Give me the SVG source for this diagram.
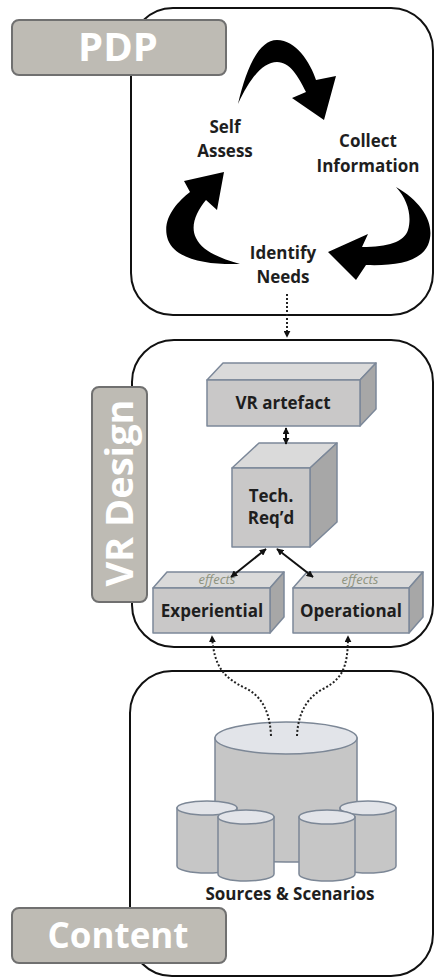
<svg xmlns="http://www.w3.org/2000/svg" width="435" height="978" viewBox="0 0 435 978">
  <defs>
    <style>
      .panel { fill: #ffffff; stroke: #111111; stroke-width: 2; }
      .tag { fill: #bebbb4; stroke: #707070; stroke-width: 2; }
      .tagtxt { font-family: "Open Sans", "Liberation Sans", sans-serif; font-weight: 700; fill: #ffffff; text-anchor: middle; }
      .lbl { font-family: "Open Sans", "Liberation Sans", sans-serif; font-weight: 700; fill: #1e1e1e; text-anchor: middle; font-size: 17px; }
      .eff { font-family: "Open Sans", "Liberation Sans", sans-serif; font-style: italic; fill: #8e937f; text-anchor: middle; font-size: 13px; }
      .front { fill: #c9c8c8; stroke: #7c8899; stroke-width: 1.5; stroke-linejoin: round; }
      .top { fill: #dadada; stroke: #7c8899; stroke-width: 1.5; stroke-linejoin: round; }
      .side { fill: #a7a7a7; stroke: #7c8899; stroke-width: 1.5; stroke-linejoin: round; }
      .cyl { fill: #c6c6c6; stroke: #7c8796; stroke-width: 1.5; }
      .cyltop { fill: #e2e4e9; stroke: #7c8796; stroke-width: 1.5; }
      .cycle { fill: #000000; }
      .solid { fill: none; stroke: #111111; stroke-width: 2; }
      .dotted { fill: none; stroke: #222222; stroke-width: 2; stroke-dasharray: 2 2; }
    </style>
    <marker id="head" viewBox="0 0 10 10" refX="9" refY="5" markerWidth="7" markerHeight="7" markerUnits="userSpaceOnUse" orient="auto-start-reverse">
      <path d="M0 0 L10 5 L0 10 Z" fill="#111111"/>
    </marker>
  </defs>

  <!-- PDP panel -->
  <g id="pdp">
    <rect class="panel" x="131" y="8" width="302" height="307" rx="42"/>
    <rect class="tag" x="12" y="20" width="214" height="55" rx="7"/>
    <text class="tagtxt" x="118" y="61" font-size="40">PDP</text>
  </g>

  <!-- cycle arrows -->
  <g id="cycle">
    <path class="cycle" d="M238 104 C246 70 258 40 277 40 C296 40 310 62 316 80 L336 76 L324 120 L292 98 L306 92 C298 76 290 62 277 62 C263 62 250 78 238 104 Z"/>
    <path class="cycle" d="M396 187 C424 203 436 226 428 245 C420 262 396 266 366 265 L356 280 L328 252 L368 234 L362 247 C388 247 404 242 408 230 C412 216 408 200 396 187 Z"/>
    <path class="cycle" d="M240 264 C208 265 176 260 168 240 C161 220 176 203 190 192 L184 181 L224 172 L217 210 L206 200 C196 212 190 226 196 238 C203 252 220 258 240 264 Z"/>
  </g>

  <g id="self-assess">
    <text class="lbl" x="225" y="133">Self</text>
    <text class="lbl" x="225" y="157">Assess</text>
  </g>
  <g id="collect-information">
    <text class="lbl" x="368" y="147">Collect</text>
    <text class="lbl" x="368" y="172">Information</text>
  </g>
  <g id="identify-needs">
    <text class="lbl" x="283" y="259">Identify</text>
    <text class="lbl" x="283" y="283">Needs</text>
  </g>

  <!-- VR Design panel -->
  <g id="vr-design">
    <rect class="panel" x="132" y="340" width="301" height="307" rx="42"/>
    <rect class="tag" x="92" y="387" width="55" height="215" rx="7"/>
    <text class="tagtxt" x="0" y="0" font-size="38" transform="translate(133 493) rotate(-90)">VR Design</text>
  </g>

  <g id="vr-artefact">
    <polygon class="top" points="207,380 223,363 376,363 360,380"/>
    <polygon class="side" points="360,380 376,363 376,409 360,426"/>
    <rect class="front" x="207" y="380" width="153" height="46"/>
    <text class="lbl" x="283" y="409">VR artefact</text>
  </g>

  <g id="tech-reqd">
    <polygon class="top" points="232,468 259,443 337,443 310,468"/>
    <polygon class="side" points="310,468 337,443 337,522 310,547"/>
    <rect class="front" x="232" y="468" width="78" height="79"/>
    <text class="lbl" x="271" y="502">Tech.</text>
    <text class="lbl" x="271" y="524">Req’d</text>
  </g>

  <g id="experiential">
    <polygon class="top" points="153,588 167,572 284,572 270,588"/>
    <polygon class="side" points="270,588 284,572 284,617 270,633"/>
    <rect class="front" x="153" y="588" width="117" height="45"/>
    <text class="eff" x="217" y="584">effects</text>
    <text class="lbl" x="212" y="617" font-size="17.5">Experiential</text>
  </g>

  <g id="operational">
    <polygon class="top" points="293,588 307,572 423,572 409,588"/>
    <polygon class="side" points="409,588 423,572 423,617 409,633"/>
    <rect class="front" x="293" y="588" width="116" height="45"/>
    <text class="eff" x="360" y="584">effects</text>
    <text class="lbl" x="351" y="617" font-size="17.5">Operational</text>
  </g>

  <!-- Content panel -->
  <g id="content">
    <rect class="panel" x="130" y="671" width="303" height="305" rx="42"/>
    <rect class="tag" x="12" y="908" width="214" height="55" rx="7"/>
    <text class="tagtxt" x="118" y="948" font-size="35">Content</text>
  </g>

  <g id="sources-scenarios">
    <path class="cyl" d="M215 738 L215 855 A71 7 0 0 0 357 855 L357 738 Z"/>
    <ellipse class="cyltop" cx="286" cy="738" rx="71" ry="16"/>
    <path class="cyl" d="M177 808 L177 866 A30 7 0 0 0 237 866 L237 808 Z"/>
    <ellipse class="cyltop" cx="207" cy="808" rx="30" ry="7"/>
    <path class="cyl" d="M218 817 L218 874 A28 7 0 0 0 274 874 L274 817 Z"/>
    <ellipse class="cyltop" cx="246" cy="817" rx="28" ry="7"/>
    <path class="cyl" d="M340 808 L340 866 A28 7 0 0 0 396 866 L396 808 Z"/>
    <ellipse class="cyltop" cx="368" cy="808" rx="28" ry="7"/>
    <path class="cyl" d="M299 817 L299 874 A28 7 0 0 0 355 874 L355 817 Z"/>
    <ellipse class="cyltop" cx="327" cy="817" rx="28" ry="7"/>
    <text class="lbl" x="290" y="900" font-size="17.5">Sources &amp; Scenarios</text>
  </g>

  <!-- connectors -->
  <g id="connectors">
    <path class="dotted" d="M287 294 L287 337" marker-end="url(#head)"/>
    <path class="solid" d="M286 428 L286 444" marker-start="url(#head)" marker-end="url(#head)"/>
    <path class="solid" d="M266 549 L231 577" marker-start="url(#head)" marker-end="url(#head)"/>
    <path class="solid" d="M277 549 L313 577" marker-start="url(#head)" marker-end="url(#head)"/>
    <path class="dotted" d="M271 736 C270 712 262 696 245 688 C225 678 214 668 212 636" marker-end="url(#head)"/>
    <path class="dotted" d="M297 736 C298 712 308 696 325 688 C342 678 348 668 348 636" marker-end="url(#head)"/>
  </g>
</svg>
